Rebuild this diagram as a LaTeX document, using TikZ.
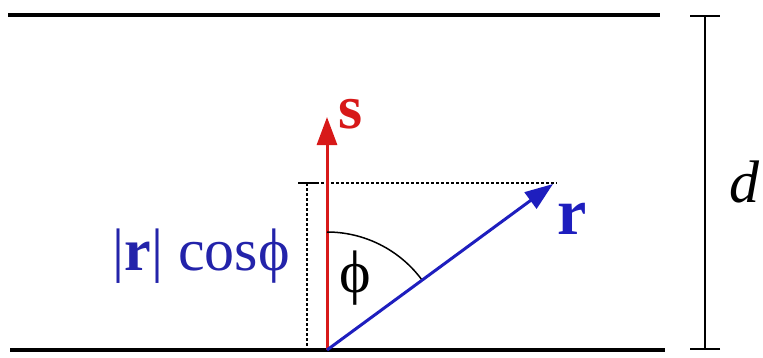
\documentclass[tikz,border=0pt]{standalone}
\usepackage{fontspec}
\setmainfont{Liberation Serif}
\usetikzlibrary{arrows.meta,positioning,calc}
\definecolor{vecred}{RGB}{215,25,25}
\definecolor{vecblue}{RGB}{30,30,190}
\definecolor{lblblue}{RGB}{35,35,170}

\begin{document}
\begin{tikzpicture}[x=1pt, y=1pt,
    plate/.style={line width=4pt},
    vec/.style={line width=3pt, -{Triangle[length=28pt,width=20pt]}},
    guide/.style={line width=1.3pt, dash pattern=on 3pt off 2pt},
    dimline/.style={line width=2pt, {Bar[width=30pt,line width=2pt]}-{Bar[width=30pt,line width=2pt]}},
    lbl/.style={inner sep=0pt, font=\fontsize{60}{60}\selectfont}
]
    \useasboundingbox (0,0) rectangle (763,357);

    % plates
    \coordinate (topL) at (8,342);
    \coordinate (topR) at (660,342);
    \coordinate (botL) at (10,7);
    \coordinate (botR) at (665,7);
    \draw[plate] (topL) -- (topR);
    \draw[plate] (botL) -- (botR);

    % distance d
    \coordinate (dtop) at (705,342);
    \coordinate (dbot) at (705,7);
    \draw[dimline] (dtop) -- (dbot);
    \node[lbl, font=\fontsize{60}{60}\selectfont\itshape] (dlab) at (744,175) {d};

    % vectors
    \coordinate (O) at (327,7);
    \coordinate (stip) at (327,240);
    \coordinate (rtip) at (553,173);
    \coordinate (projtop) at (307,174);
    \coordinate (projbot) at (307,7);
    \coordinate (tickL) at (298,174);
    \coordinate (tickR) at (316,174);
    \coordinate (hend) at (557,174);

    \draw[guide] (projtop) -- (projbot);
    \draw[line width=1.6pt] (tickL) -- (tickR);
    \draw[guide] (tickR) -- (hend);

    \draw[vec, vecred] (O) -- (stip);
    \draw[vec, vecblue] (O) -- (rtip);

    \coordinate (arcA) at ($(O)+(90:118)$);
    \draw[line width=1.5pt] (arcA) arc[start angle=90, end angle=37, radius=118];

    % labels
    \node[lbl, text=vecred, font=\fontsize{62}{62}\selectfont\bfseries] (slab) at (351,243) {s};
    \node[lbl, text=vecblue, font=\fontsize{66}{66}\selectfont\bfseries] (rlab) at (572,138) {r};
    \node[lbl] (philab) at (355,79) {ϕ};
    \node[lbl, text=lblblue, anchor=east] (projlab) at (290,101) {|\textbf{r}| cosϕ};
\end{tikzpicture}
\end{document}
